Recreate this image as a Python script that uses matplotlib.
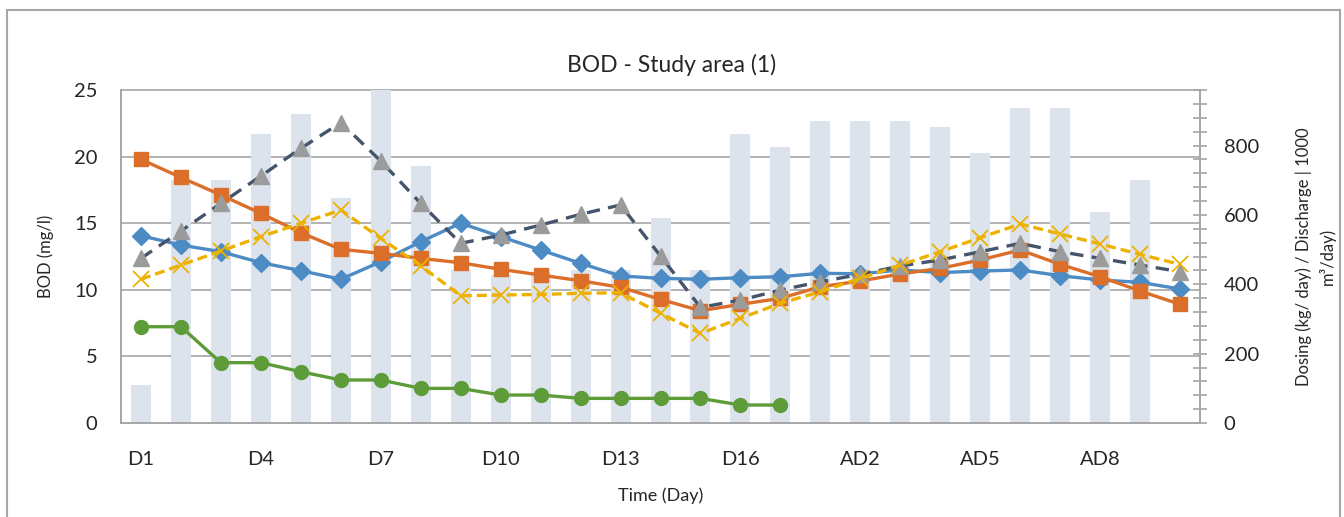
"""
BOD in study area (1): concentrations per sampling point (left axis)
against daily dosing / discharge volume shown as bars (right axis).
"""
import matplotlib.pyplot as plt
import matplotlib.transforms as mtransforms
from matplotlib.patches import Rectangle
from matplotlib.ticker import MultipleLocator
import numpy as np

plt.rcParams["font.family"] = ["Lato", "DejaVu Sans"]

# Days of the campaign (D = dosing period, AD = after dosing)
days = [f"D{i}" for i in range(1, 18)] + [f"AD{i}" for i in range(1, 11)]

# Dosing / discharge (right axis)
discharge = [110, 702, 700, 832, 890, 650, 960, 742, 441, 427, 436, 441, 441, 592,
             441, 832, 797, 871, 871, 871, 854, 778, 907, 907, 609, 702, 0]

# BOD series (mg/l)
bod_blue = [14.06, 13.36, 12.86, 12.04, 11.44, 10.79, 12.11, 13.61, 15.0, 13.99,
            12.99, 11.99, 11.04, 10.86, 10.79, 10.91, 10.98, 11.24, 11.2, 11.49,
            11.29, 11.41, 11.49, 11.06, 10.74, 10.56, 10.06]
bod_orange = [19.79, 18.44, 17.12, 15.74, 14.29, 13.04, 12.74, 12.36, 12.03, 11.54,
              11.11, 10.68, 10.19, 9.28, 8.43, 8.91, 9.36, 10.23, 10.66, 11.19,
              11.61, 12.24, 12.99, 11.91, 10.98, 9.91, 8.91]
bod_gray = [12.36, 14.41, 16.49, 18.54, 20.62, 22.55, 19.67, 16.49, 13.49, 14.11,
            14.86, 15.67, 16.37, 12.54, 8.68, 9.23, 9.98, 10.61, 11.16, 11.79,
            12.24, 12.86, 13.49, 12.86, 12.36, 11.86, 11.36]
bod_yellow = [10.79, 11.86, 12.91, 13.99, 14.99, 15.99, 13.86, 11.81, 9.55, 9.61,
              9.65, 9.74, 9.78, 8.24, 6.73, 7.86, 8.99, 9.86, 10.86, 11.86,
              12.86, 13.91, 14.94, 14.19, 13.44, 12.66, 11.91]
bod_green = [7.23, 7.23, 4.53, 4.53, 3.85, 3.23, 3.23, 2.6, 2.6, 2.1,
             2.1, 1.85, 1.85, 1.85, 1.85, 1.35, 1.35]

AXIS_GRAY = "#A6A6A6"
TEXT = "#262626"
BOD_MAX = 25

x = np.arange(len(days))

fig = plt.figure(figsize=(13.44, 5.17), dpi=100)
ax = fig.add_axes([0.0900, 0.1818, 0.8029, 0.6441])
ax_bar = ax.twinx()

# bars sit underneath the lines
ax.set_zorder(ax_bar.get_zorder() + 1)
ax.patch.set_visible(False)

ax_bar.bar(x, discharge, width=0.5, color="#DDE3EC", zorder=2)
ax_bar.set_ylim(0, 960)
ax_bar.yaxis.set_major_locator(MultipleLocator(200))
ax_bar.yaxis.set_minor_locator(MultipleLocator(40))

ax.set_ylim(0, BOD_MAX)
ax.set_xlim(-0.5, len(days) - 0.5)
ax.yaxis.set_major_locator(MultipleLocator(5))

# horizontal gridlines behind the bars, in left-axis units
grid_tf = mtransforms.blended_transform_factory(ax_bar.transAxes, ax.transData)
for v in ax.get_yticks():
    if 0 < v <= BOD_MAX:
        ax_bar.plot([0, 1], [v, v], transform=grid_tf, color=AXIS_GRAY,
                    linewidth=1.2, zorder=1, clip_on=False)

line_kw = dict(linewidth=2.4, clip_on=False)
ax.plot(x, bod_blue, color="#4C8BC4", marker="D", markersize=9, **line_kw)
ax.plot(x, bod_orange, color="#DB6E28", marker="s", markersize=10, **line_kw)
ax.plot(x, bod_gray, color="#44546A", linestyle=(0, (4, 2.5)), marker="^",
        markersize=11, markerfacecolor="#9B9B9B", markeredgecolor="#9B9B9B", **line_kw)
ax.plot(x, bod_yellow, color="#EDB200", linestyle=(0, (3, 1.5)), marker="x",
        markersize=11.5, markeredgewidth=1.3, **line_kw)
ax.plot(x[:len(bod_green)], bod_green, color="#5E9C3A", marker="o", markersize=10, **line_kw)

ax.set_xticks(x[::3])
ax.set_xticklabels(days[::3])

for a in (ax, ax_bar):
    for side in ("top", "left", "right", "bottom"):
        a.spines[side].set_color(AXIS_GRAY)
        a.spines[side].set_linewidth(1.2)
ax.spines["top"].set_visible(False)
ax_bar.spines["top"].set_visible(False)

ax.tick_params(axis="x", length=0, pad=20, labelsize=14.5, labelcolor=TEXT)
ax.tick_params(axis="y", length=0, pad=17, labelsize=14.5, labelcolor=TEXT)
ax_bar.tick_params(axis="y", which="major", direction="inout", length=10, width=1.2,
                   color=AXIS_GRAY, pad=12, labelsize=14.5, labelcolor=TEXT)
ax_bar.tick_params(axis="y", which="minor", direction="inout", length=10, width=1.2,
                   color=AXIS_GRAY)

ax.set_xlabel("Time (Day)", fontsize=13, color=TEXT, labelpad=14)
ax.set_ylabel("BOD (mg/l)", fontsize=12, color=TEXT, labelpad=14)
ax_bar.set_ylabel("Dosing (kg/ day) / Discharge | 1000\nm³/day)", fontsize=12,
                  color=TEXT, labelpad=26, linespacing=1.5)

fig.text(0.5, 0.875, "BOD - Study area (1)", ha="center", va="center",
         fontsize=16.5, color=TEXT)

# chart-area frame
fig.patches.append(Rectangle((7 / 1344, -0.05), 1333 / 1344, 1.05 - 10 / 517,
                             transform=fig.transFigure, fill=False,
                             edgecolor=AXIS_GRAY, linewidth=1.5))

fig.savefig("out.png", dpi=100)
